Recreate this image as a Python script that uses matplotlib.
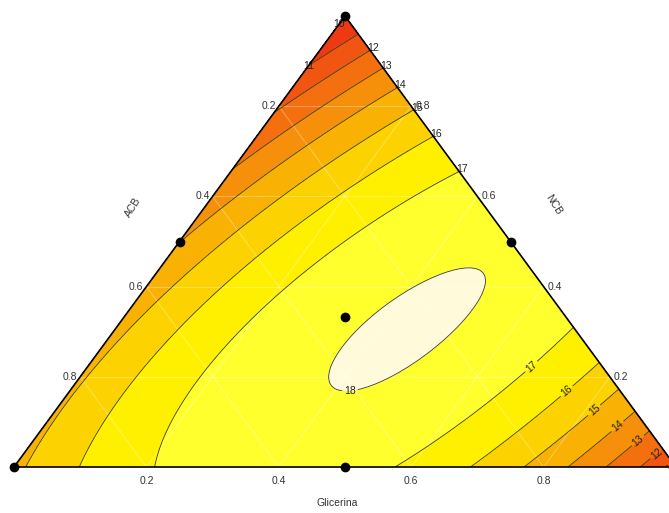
import numpy as np
import matplotlib
matplotlib.use("Agg")
import matplotlib.pyplot as plt
import matplotlib.tri as mtri

plt.rcParams["font.family"] = ["Liberation Sans", "DejaVu Sans"]

# Scheffe mixture model coefficients (ACB, NCB, Glicerina)
b_acb = 14.75
b_ncb = 9.79
b_gli = 10.85
b_acb_ncb = 6.81
b_acb_gli = 18.4
b_ncb_gli = 30.3
b_acb_ncb_gli = -2.5

# contour levels and fill colours (low -> high)
levels = [10, 11, 12, 13, 14, 15, 16, 17, 18]
fill_colors = ["#e92a12", "#ee3a12", "#f15512", "#f4700e", "#f68f0a",
               "#f9b104", "#fcd200", "#fff000", "#ffff2e", "#fffbda"]

# simplex-centroid design points
pts_acb = [1.0, 0.0, 0.0, 0.5, 0.5, 0.0, 1 / 3]
pts_ncb = [0.0, 1.0, 0.0, 0.5, 0.0, 0.5, 1 / 3]
pts_gli = [0.0, 0.0, 1.0, 0.0, 0.5, 0.5, 1 / 3]

tick_vals = [0.2, 0.4, 0.6, 0.8]

# triangle corners in pixel space: ACB bottom-left, NCB top, Glicerina bottom-right
C_ACB = np.array([14.0, 467.0])
C_NCB = np.array([345.0, 16.0])
C_GLI = np.array([676.0, 467.0])
M = np.array([[C_ACB[0], C_NCB[0], C_GLI[0]],
              [C_ACB[1], C_NCB[1], C_GLI[1]],
              [1.0, 1.0, 1.0]])


def to_xy(a, n, g):
    a, n, g = np.asarray(a), np.asarray(n), np.asarray(g)
    x = a * C_ACB[0] + n * C_NCB[0] + g * C_GLI[0]
    y = a * C_ACB[1] + n * C_NCB[1] + g * C_GLI[1]
    return x, y


def from_xy(x, y):
    return np.linalg.solve(M, np.vstack([x, y, np.ones_like(x)]))


def model(a, n, g):
    return (b_acb * a + b_ncb * n + b_gli * g
            + b_acb_ncb * a * n + b_acb_gli * a * g + b_ncb_gli * n * g
            + b_acb_ncb_gli * a * n * g)


def crossing(level, p0, p1):
    # first point on segment p0->p1 (barycentric) where model == level
    s = np.linspace(0, 1, 4001)
    p = np.outer(1 - s, p0) + np.outer(s, p1)
    v = model(p[:, 0], p[:, 1], p[:, 2]) - level
    idx = np.where(np.sign(v[:-1]) != np.sign(v[1:]))[0]
    if len(idx) == 0:
        return None
    i = idx[0]
    t = v[i] / (v[i] - v[i + 1])
    q = p[i] + t * (p[i + 1] - p[i])
    x, y = to_xy(*q)
    return float(x), float(y)


fig = plt.figure(figsize=(6.69, 5.13), dpi=100)
ax = fig.add_axes([0, 0, 1, 1])
ax.set_xlim(0, 669)
ax.set_ylim(513, 0)
ax.axis("off")

# fine mesh over the simplex
base = mtri.Triangulation([C_ACB[0], C_NCB[0], C_GLI[0]],
                          [C_ACB[1], C_NCB[1], C_GLI[1]], [[0, 1, 2]])
fine = mtri.UniformTriRefiner(base).refine_triangulation(subdiv=7)
bary = np.clip(from_xy(fine.x, fine.y), 0, 1)
z = model(bary[0], bary[1], bary[2])

fill_levels = [z.min() - 1] + levels + [z.max() + 1]
ax.tricontourf(fine, z, levels=fill_levels, colors=fill_colors)

# faint composition grid
for v in tick_vals:
    for seg in ([(v, 1 - v, 0), (v, 0, 1 - v)],
                [(1 - v, v, 0), (0, v, 1 - v)],
                [(1 - v, 0, v), (0, 1 - v, v)]):
        xs, ys = to_xy(*np.array(seg).T)
        ax.plot(xs, ys, color="white", alpha=0.3, lw=0.8, zorder=2)

cs = ax.tricontour(fine, z, levels=levels, colors="#3a3a1a", linewidths=0.6,
                   zorder=3)

# inline labels near the Glicerina corner and on the optimum contour
label_pts = []
for lv in [17, 16, 15, 14, 13, 12]:
    label_pts.append(crossing(lv, (0.13, 0.27, 0.60), (0.0, 0.0, 1.0)))
label_pts.append(crossing(11, (0.1, 0, 0.9), (0, 0, 1)))
p_out = from_xy(np.array([350.0]), np.array([430.0]))[:, 0]
p_in = from_xy(np.array([350.0]), np.array([330.0]))[:, 0]
pt18 = crossing(18, p_out, p_in)
if pt18 is not None:
    label_pts.append(pt18)
label_pts = [p for p in label_pts if p is not None]
ax.clabel(cs, fmt="%d", fontsize=7.5, inline=True, inline_spacing=2,
          manual=label_pts, colors="#222222")
for t in cs.labelTexts:
    if t.get_text() == "18":
        t.set_rotation(0)

# edge labels where contours meet the NCB and ACB sides
for lv in [12, 13, 14, 15, 16, 17]:
    p = crossing(lv, (0, 1, 0), (0, 0.5, 0.5))
    if p is not None:
        ax.text(p[0] - 3, p[1] - 2, str(lv), ha="left", va="center",
                fontsize=7.5, color="#222222", zorder=4)
for lv in [10, 11]:
    p = crossing(lv, (0, 1, 0), (0.5, 0.5, 0))
    if p is not None:
        ax.text(p[0], p[1], str(lv), ha="center", va="center", rotation=0,
                fontsize=7.5, color="#222222", zorder=4)

# triangle outline
ox, oy = to_xy([1, 0, 0, 1], [0, 1, 0, 0], [0, 0, 1, 0])
ax.plot(ox, oy, color="black", lw=1.2, zorder=4, clip_on=False)

# design points
dx, dy = to_xy(pts_acb, pts_ncb, pts_gli)
ax.plot(dx, dy, "o", color="black", ms=6, zorder=5, clip_on=True)

# tick labels
for v in tick_vals:
    x, y = to_xy(v, 1 - v, 0)
    ax.text(x - 3, y, f"{v:.1f}", ha="right", va="center", fontsize=7.5,
            color="#333333")
    x, y = to_xy(0, v, 1 - v)
    ax.text(x + 4, y, f"{v:.1f}", ha="left", va="center", fontsize=7.5,
            color="#333333")
    x, y = to_xy(1 - v, 0, v)
    ax.text(x, y + 14, f"{v:.1f}", ha="center", va="center", fontsize=7.5,
            color="#333333")

ax.text(133, 207, "ACB", rotation=58, ha="center", va="center", fontsize=7.5,
        color="#333333")
ax.text(553, 205, "NCB", rotation=-58, ha="center", va="center", fontsize=7.5,
        color="#333333")
ax.text(337, 503, "Glicerina", ha="center", va="center", fontsize=7.5,
        color="#333333")

fig.savefig("out.png", dpi=100)
